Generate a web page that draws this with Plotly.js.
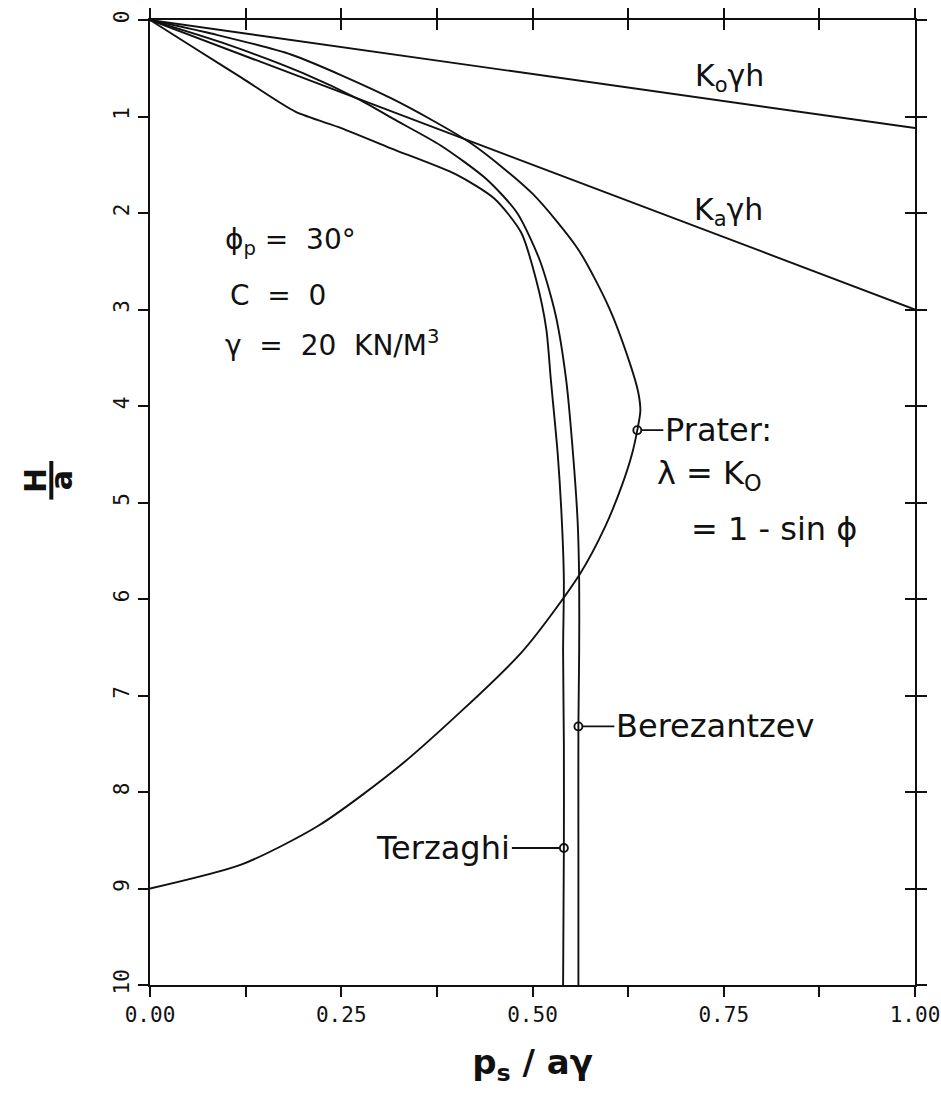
<!DOCTYPE html>
<html>
<head>
<meta charset="utf-8">
<script src="https://cdn.plot.ly/plotly-3.0.1.min.js"></script>
<style>html,body{margin:0;padding:0;background:#fff}</style>
</head>
<body>
<div id="chart" style="width:941px;height:1102px"></div>
<script>
// Support pressure p_s/(a·γ) against depth ratio H/a, phi = 30°, c = 0
const koX = [0, 1.0];
const koY = [0, 1.12];
const kaX = [0, 1.0];
const kaY = [0, 3.0];

const praterX = [0, 0.08, 0.185, 0.315, 0.42, 0.50, 0.56, 0.60, 0.627, 0.638, 0.641, 0.637, 0.630, 0.617, 0.595, 0.562, 0.486, 0.331, 0.22, 0.12, 0];
const praterY = [0, 0.14, 0.36, 0.81, 1.28, 1.80, 2.38, 2.98, 3.55, 3.85, 4.05, 4.25, 4.50, 4.82, 5.25, 5.74, 6.55, 7.70, 8.35, 8.75, 9.0];

const terzaghiX = [0, 0.06, 0.12, 0.19, 0.25, 0.315, 0.40, 0.45, 0.485, 0.505, 0.518, 0.524, 0.533, 0.539, 0.541, 0.540, 0.541, 0.541, 0.540];
const terzaghiY = [0, 0.30, 0.60, 0.95, 1.12, 1.33, 1.60, 1.85, 2.20, 2.70, 3.20, 3.73, 4.50, 5.30, 5.81, 6.54, 7.50, 8.58, 10.0];

const berezX = [0, 0.10, 0.20, 0.275, 0.317, 0.38, 0.44, 0.48, 0.51, 0.53, 0.544, 0.553, 0.559, 0.561, 0.561, 0.560, 0.560, 0.560];
const berezY = [0, 0.25, 0.55, 0.83, 1.02, 1.30, 1.65, 2.00, 2.50, 3.05, 3.73, 4.50, 5.20, 5.81, 6.54, 7.32, 8.50, 10.0];

// labelled points: Prater, Berezantzev, Terzaghi
const markX = [0.637, 0.560, 0.541];
const markY = [4.25, 7.32, 8.58];

const xTickVals = [0, 0.125, 0.25, 0.375, 0.5, 0.625, 0.75, 0.875, 1.0];
const xTickText = ['0.00', '', '0.25', '', '0.50', '', '0.75', '', '1.00'];
const yTickVals = [0, 1, 2, 3, 4, 5, 6, 7, 8, 9, 10];
const yTickText = ['0', '1', '2', '3', '4', '5', '6', '7', '8', '9', '10'];

const INK = '#111';
const curve = (x, y, name) => ({
  x, y, name, type: 'scatter', mode: 'lines',
  line: {color: INK, width: 1.9, shape: 'spline', smoothing: 0.7},
  hoverinfo: 'skip', cliponaxis: false
});

const traces = [
  curve(koX, koY, 'K0 γ h'),
  curve(kaX, kaY, 'Ka γ h'),
  curve(praterX, praterY, 'Prater'),
  curve(terzaghiX, terzaghiY, 'Terzaghi'),
  curve(berezX, berezY, 'Berezantzev'),
  {
    x: markX, y: markY, type: 'scatter', mode: 'markers', name: 'points',
    marker: {symbol: 'circle-open', size: 8, color: INK, line: {width: 1.9}},
    hoverinfo: 'skip', cliponaxis: false
  },
  // carries the inner tick marks on the top and right frame edges
  {x: [0], y: [0], xaxis: 'x2', yaxis: 'y2', type: 'scatter', mode: 'markers',
   marker: {opacity: 0}, hoverinfo: 'skip', showlegend: false}
];

const tickFont = {family: 'DejaVu Sans Mono, monospace', size: 21, color: INK};
const sans = 'DejaVu Sans, Liberation Sans, sans-serif';

const layout = {
  width: 941, height: 1102,
  margin: {l: 150, r: 26, t: 20, b: 117},
  paper_bgcolor: '#fff', plot_bgcolor: '#fff',
  showlegend: false,
  xaxis: {
    range: [0, 1], tickvals: xTickVals, ticktext: xTickText,
    ticks: 'outside', ticklen: 10, tickwidth: 2, tickcolor: INK,
    showline: true, linewidth: 2.2, linecolor: INK, mirror: 'ticks',
    showgrid: false, zeroline: false, tickfont: tickFont, ticklabeloverflow: 'allow',
    title: {text: '<b>p<sub>s</sub> / aγ</b>', font: {family: sans, size: 34, color: INK}, standoff: 24}
  },
  yaxis: {
    range: [10, 0], tickvals: yTickVals, ticktext: yTickText,
    ticks: 'outside', ticklen: 10, tickwidth: 2, tickcolor: INK,
    showline: true, linewidth: 2.2, linecolor: INK, mirror: 'ticks',
    showgrid: false, zeroline: false, tickfont: tickFont, tickangle: -90,
    ticklabeloverflow: 'allow'
  },
  xaxis2: {
    overlaying: 'x', side: 'top', range: [0, 1], tickvals: xTickVals,
    ticks: 'inside', ticklen: 10, tickwidth: 2, tickcolor: INK,
    showticklabels: false, showline: false, showgrid: false, zeroline: false
  },
  yaxis2: {
    overlaying: 'y', side: 'right', range: [10, 0], tickvals: yTickVals,
    ticks: 'inside', ticklen: 10, tickwidth: 2, tickcolor: INK,
    showticklabels: false, showline: false, showgrid: false, zeroline: false
  },
  shapes: [
    // fraction bar of the H/a axis title
    {type: 'line', xref: 'paper', yref: 'paper', x0: -0.129, x1: -0.129, y0: 0.503, y1: 0.543,
     line: {color: INK, width: 4}}
  ],
  annotations: [
    {xref: 'paper', yref: 'paper', x: -0.175, y: 0.523, text: '<b>H</b>', textangle: -90,
     showarrow: false, font: {family: sans, size: 30, color: INK}},
    {xref: 'paper', yref: 'paper', x: -0.142, y: 0.523, text: '<b>a</b>', textangle: -90,
     showarrow: false, font: {family: sans, size: 30, color: INK}},

    {x: 0.71, y: 0.6, text: 'K<sub>o</sub>γh', showarrow: false, xanchor: 'left',
     font: {family: sans, size: 30, color: INK}},
    {x: 0.708, y: 1.98, text: 'K<sub>a</sub>γh', showarrow: false, xanchor: 'left',
     font: {family: sans, size: 30, color: INK}},

    {x: 0.095, y: 2.3, text: 'ϕ<sub>p</sub>\u00A0=\u00A0\u00A030°', showarrow: false, xanchor: 'left',
     font: {family: sans, size: 28, color: INK}},
    {x: 0.102, y: 2.85, text: 'C\u00A0\u00A0=\u00A0\u00A00', showarrow: false, xanchor: 'left',
     font: {family: sans, size: 28, color: INK}},
    {x: 0.095, y: 3.35, text: 'γ\u00A0\u00A0=\u00A0\u00A020\u00A0\u00A0KN/M<sup>3</sup>', showarrow: false, xanchor: 'left',
     font: {family: sans, size: 28, color: INK}},

    {x: markX[0], y: markY[0], ax: 26, ay: 0, text: 'Prater:', xanchor: 'left',
     showarrow: true, arrowhead: 0, arrowwidth: 1.9, arrowcolor: INK, standoff: 4,
     font: {family: sans, size: 32, color: INK}},
    {x: 0.66, y: 4.72, text: 'λ = K<sub>O</sub>', showarrow: false, xanchor: 'left',
     font: {family: sans, size: 32, color: INK}},
    {x: 0.705, y: 5.27, text: '= 1 - sin ϕ', showarrow: false, xanchor: 'left',
     font: {family: sans, size: 32, color: INK}},

    {x: markX[1], y: markY[1], ax: 36, ay: 0, text: 'Berezantzev', xanchor: 'left',
     showarrow: true, arrowhead: 0, arrowwidth: 1.9, arrowcolor: INK, standoff: 4,
     font: {family: sans, size: 32, color: INK}},
    {x: markX[2], y: markY[2], ax: -52, ay: 0, text: 'Terzaghi', xanchor: 'right',
     showarrow: true, arrowhead: 0, arrowwidth: 1.9, arrowcolor: INK, standoff: 4,
     font: {family: sans, size: 32, color: INK}}
  ]
};

Plotly.newPlot('chart', traces, layout, {staticPlot: true, displayModeBar: false});
</script>
</body>
</html>
